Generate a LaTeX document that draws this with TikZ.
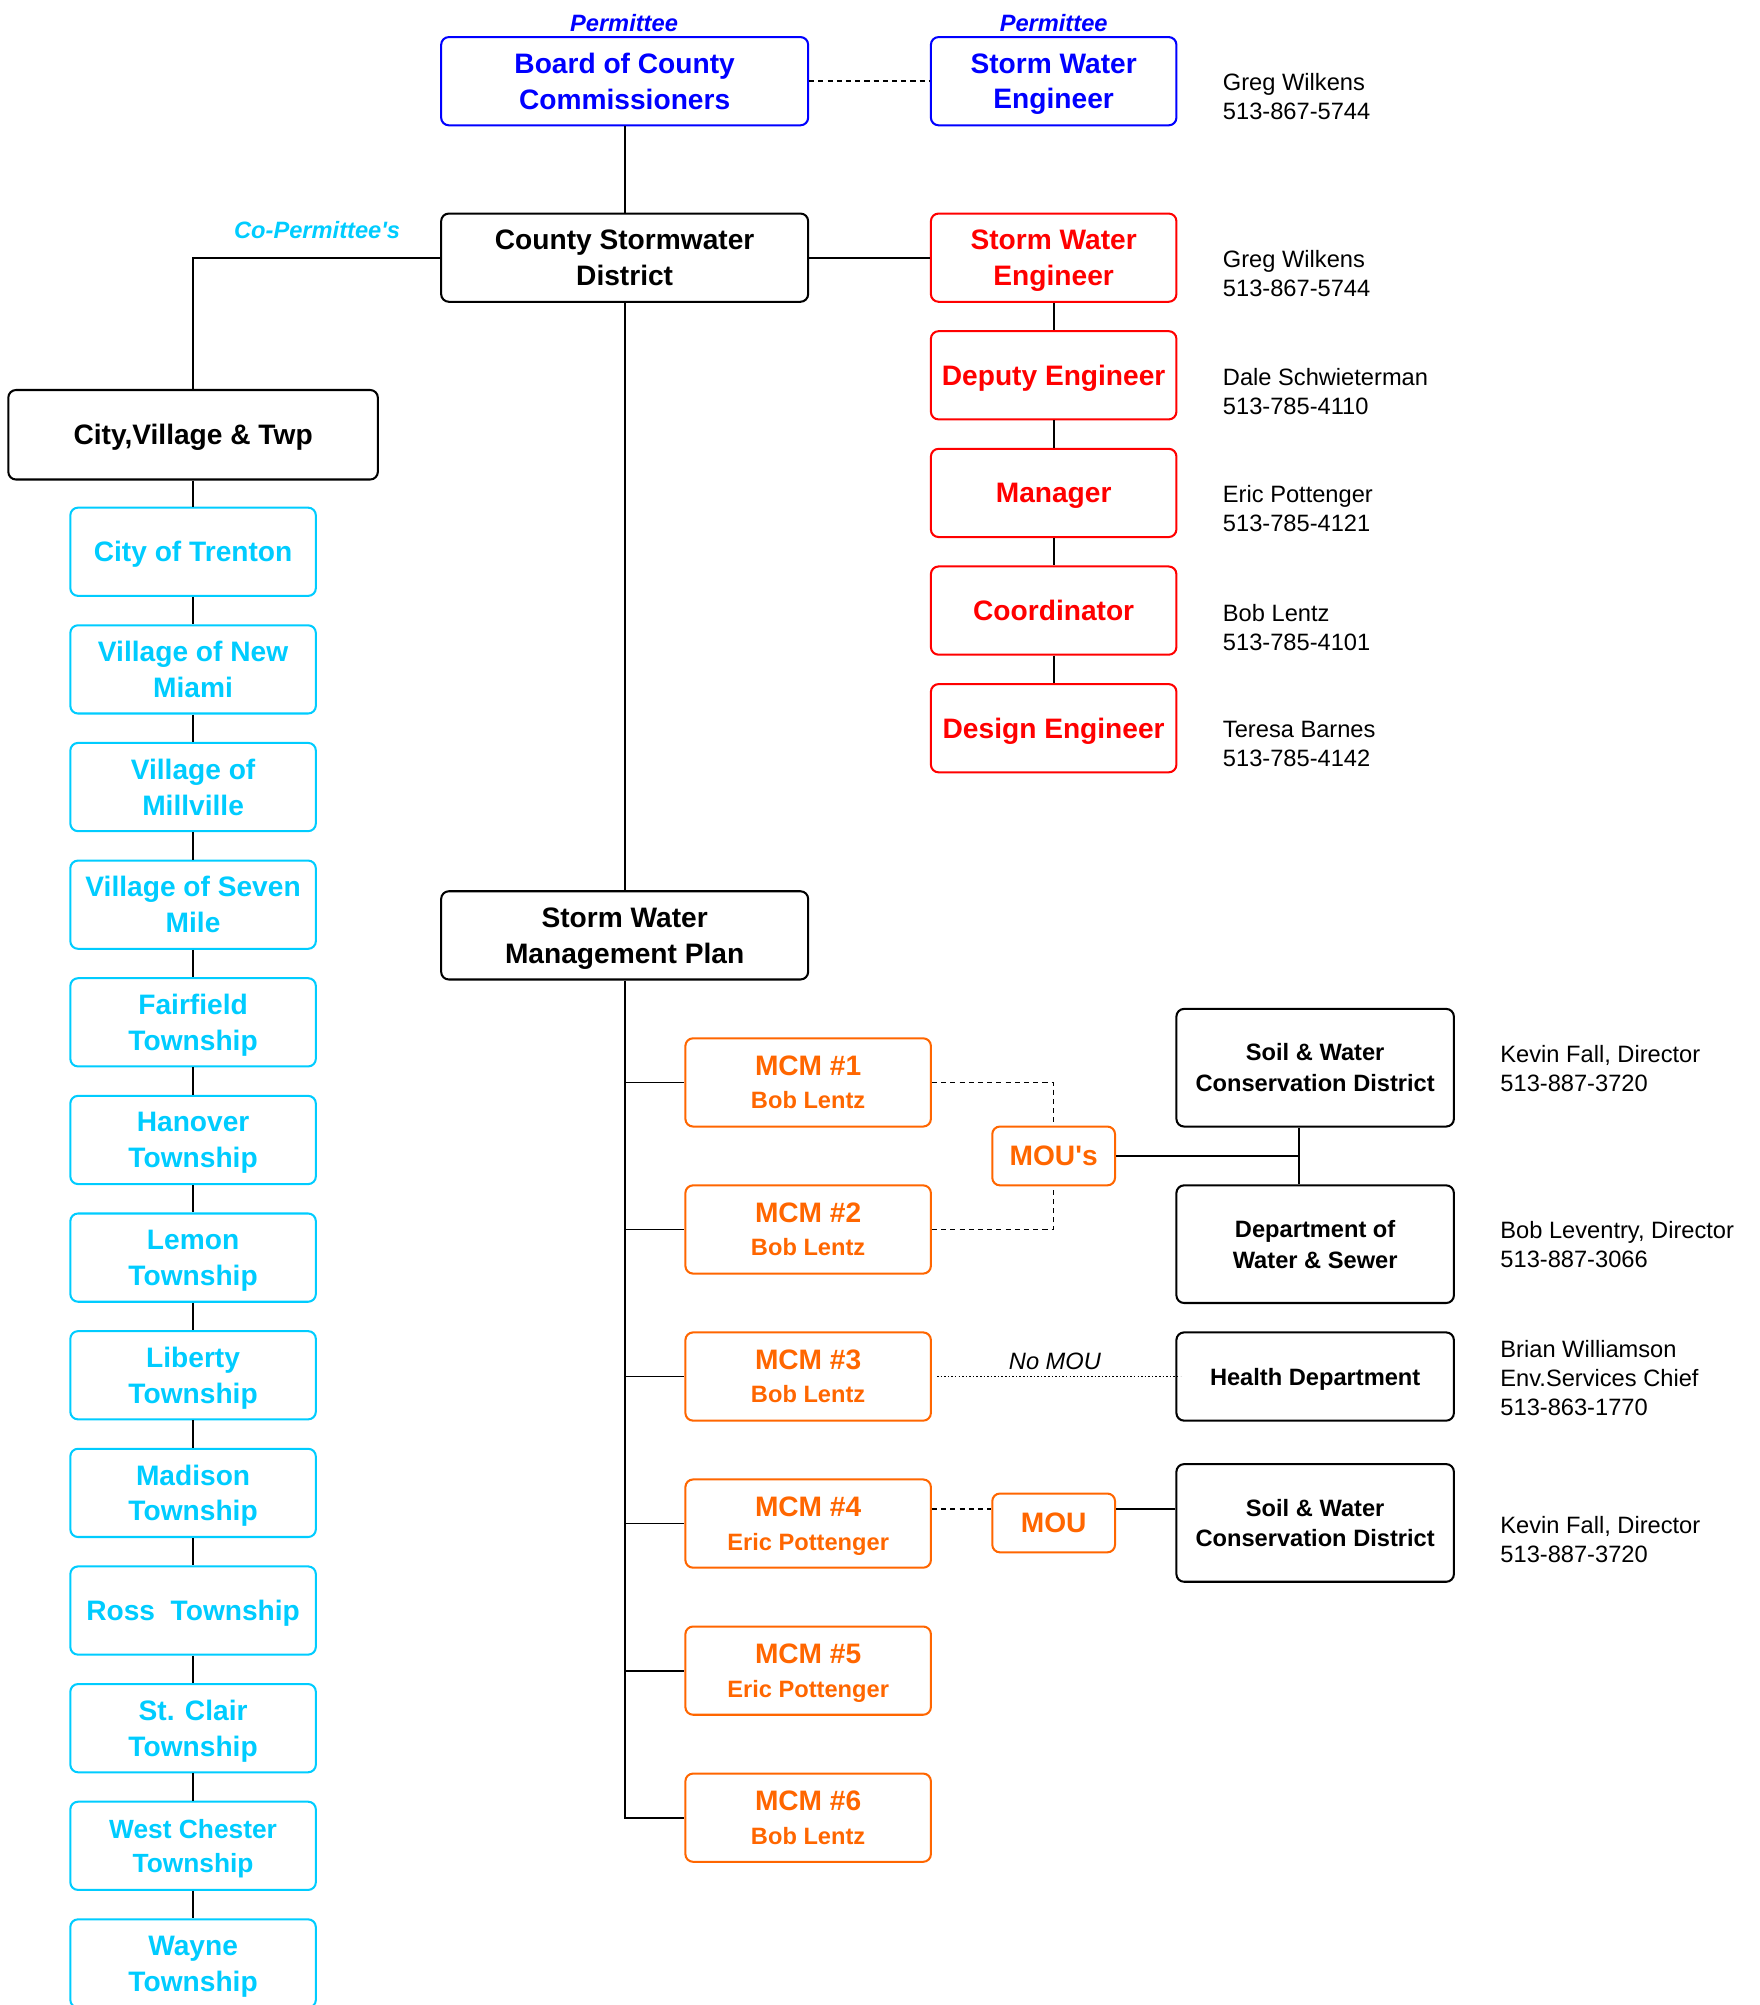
\documentclass[tikz,border=0pt]{standalone}
\usepackage{fontspec}
\setmainfont{Liberation Sans}
\definecolor{pblue}{RGB}{0,0,255}
\definecolor{pred}{RGB}{255,0,0}
\definecolor{pcyan}{RGB}{0,204,255}
\definecolor{porange}{RGB}{255,102,0}
\begin{document}
\begin{tikzpicture}[x=0.5pt,y=-0.5pt,
  box/.style={draw, rounded corners=3pt, line width=0.8pt, align=center, inner sep=0pt, text depth=0pt,
    font=\bfseries\fontsize{11}{14}\selectfont},
  wbox/.style={box, minimum width=143.5pt, minimum height=34.5pt},
  nbox/.style={box, minimum width=96pt, minimum height=34.5pt},
  cbox/.style={nbox, pcyan},
  mbox/.style={nbox, porange, font=\bfseries\fontsize{11}{13}\selectfont},
  abox/.style={box, minimum width=108.5pt, minimum height=46pt, font=\bfseries\fontsize{9.25}{12}\selectfont},
  moubox/.style={box, minimum width=48pt, minimum height=23pt, porange},
  info/.style={anchor=west, align=left, inner sep=0pt, font=\fontsize{9.25}{11.25}\selectfont},
  link/.style={line width=0.7pt},
  dlink/.style={line width=0.65pt, dash pattern=on 2pt off 1.6pt},
  tag/.style={inner sep=0pt, font=\bfseries\itshape\fontsize{9.25}{11}\selectfont}
]
\clip (0,0) rectangle (1376,1568);
\path[use as bounding box] (0,0) rectangle (1376,1568);

% top permittees
\node[tag, text=pblue] (tag1) at (488,18) {Permittee};
\node[tag, text=pblue] (tag2) at (824,18) {Permittee};
\node[wbox, pblue] (board) at (488.5,63.5) {Board of County\\Commissioners};
\node[nbox, pblue] (swe1) at (824,63.5) {Storm Water\\Engineer};
\node[info] (i1) at (956,75.5) {Greg Wilkens\\513-867-5744};
\draw[dlink] (board) -- (swe1);

% county stormwater district
\node[wbox] (csd) at (488.5,201.5) {County Stormwater\\District};
\draw[link] (board) -- (csd);
\node[tag, text=pcyan] (tag3) at (248,180) {Co-Permittee\textquotesingle s};

% red chain
\node[nbox, pred] (swe2) at (824,201.5) {Storm Water\\Engineer};
\node[nbox, pred] (dep) at (824,293.5) {Deputy Engineer};
\node[nbox, pred] (man) at (824,385.5) {Manager};
\node[nbox, pred] (coo) at (824,477.5) {Coordinator};
\node[nbox, pred] (des) at (824,569.5) {Design Engineer};
\draw[link] (csd) -- (swe2);
\draw[link] (swe2) -- (dep);
\draw[link] (dep) -- (man);
\draw[link] (man) -- (coo);
\draw[link] (coo) -- (des);
\node[info] (i2) at (956,214) {Greg Wilkens\\513-867-5744};
\node[info] (i3) at (956,306) {Dale Schwieterman\\513-785-4110};
\node[info] (i4) at (956,398) {Eric Pottenger\\513-785-4121};
\node[info] (i5) at (956,490.5) {Bob Lentz\\513-785-4101};
\node[info] (i6) at (956,582) {Teresa Barnes\\513-785-4142};

% city, village & twp
\node[box, minimum width=144.5pt, minimum height=35pt] (city) at (151,340) {City,Village \& Twp};
\draw[link] (csd.west) -| (city.north);
\node[cbox] (c1) at (151,431.5) {City of Trenton};
\node[cbox] (c2) at (151,523.5) {Village of New\\Miami};
\node[cbox] (c3) at (151,615.5) {Village of\\Millville};
\node[cbox] (c4) at (151,707.5) {Village of Seven\\Mile};
\node[cbox] (c5) at (151,799.5) {Fairfield\\Township};
\node[cbox] (c6) at (151,891.5) {Hanover\\Township};
\node[cbox] (c7) at (151,983.5) {Lemon\\Township};
\node[cbox] (c8) at (151,1075.5) {Liberty\\Township};
\node[cbox] (c9) at (151,1167.5) {Madison\\Township};
\node[cbox] (c10) at (151,1259.5) {Ross\ \ Township};
\node[cbox] (c11) at (151,1351.5) {St. Clair\\Township};
\node[cbox, font=\bfseries\fontsize{10.3}{13.5}\selectfont] (c12) at (151,1443.5) {West Chester\\Township};
\node[cbox] (c13) at (151,1535.5) {Wayne\\Township};
\draw[link] (city) -- (c1);
\foreach \a/\b in {c1/c2,c2/c3,c3/c4,c4/c5,c5/c6,c6/c7,c7/c8,c8/c9,c9/c10,c10/c11,c11/c12,c12/c13}
  \draw[link] (\a) -- (\b);

% storm water management plan
\node[wbox] (swmp) at (488.5,731.5) {Storm Water\\Management Plan};
\draw[link] (csd) -- (swmp);

\node[mbox] (mcm1) at (632,846.5) {MCM \#1\\{\fontsize{9.25}{13}\selectfont Bob Lentz}};
\node[mbox] (mcm2) at (632,961.5) {MCM \#2\\{\fontsize{9.25}{13}\selectfont Bob Lentz}};
\node[mbox] (mcm3) at (632,1076.5) {MCM \#3\\{\fontsize{9.25}{13}\selectfont Bob Lentz}};
\node[mbox] (mcm4) at (632,1191.5) {MCM \#4\\{\fontsize{9.25}{13}\selectfont Eric Pottenger}};
\node[mbox] (mcm5) at (632,1306.5) {MCM \#5\\{\fontsize{9.25}{13}\selectfont Eric Pottenger}};
\node[mbox] (mcm6) at (632,1421.5) {MCM \#6\\{\fontsize{9.25}{13}\selectfont Bob Lentz}};
\draw[link] (swmp.south) -- (swmp.south |- mcm6.west) -- (mcm6.west);
\foreach \m in {mcm1,mcm2,mcm3,mcm4,mcm5}
  \draw[link] (swmp.south |- \m.west) -- (\m.west);

% agencies
\node[abox] (soil1) at (1028.5,835) {Soil \& Water\\Conservation District};
\node[abox] (dws) at (1028.5,973) {Department of\\Water \& Sewer};
\node[abox, minimum height=34.5pt] (health) at (1028.5,1076.5) {Health Department};
\node[abox] (soil2) at (1028.5,1191) {Soil \& Water\\Conservation District};
\node[info] (i7) at (1173,835.5) {Kevin Fall, Director\\513-887-3720};
\node[info] (i8) at (1173,973.5) {Bob Leventry, Director\\513-887-3066};
\node[info] (i9) at (1173,1077.5) {Brian Williamson\\Env.Services Chief\\513-863-1770};
\node[info] (i10) at (1173,1204) {Kevin Fall, Director\\513-887-3720};

% MOU's
\node[moubox] (mous) at (824,904) {MOU\textquotesingle s};
\draw[dlink] (mcm1.east) -| (mous.north);
\draw[dlink] (mcm2.east) -| (mous.south);
\coordinate (jn) at (1016,904);
\draw[link] (mous.east) -- (jn);
\draw[link] (jn |- soil1.south) -- (jn |- dws.north);

% No MOU
\draw[line width=0.5pt, dash pattern=on 0.6pt off 0.8pt] ([xshift=2pt]mcm3.east) -- ([xshift=2pt]health.west);
\node[inner sep=0pt, font=\itshape\fontsize{9.25}{11}\selectfont] (nomou) at (825,1065) {No MOU};

% MOU
\node[moubox] (mou) at (824,1191) {MOU};
\coordinate (m4) at (0,1180);
\draw[dlink] (mcm4.east |- m4) -- (mou.west |- m4);
\draw[link] (mou.east |- m4) -- (soil2.west |- m4);
\end{tikzpicture}
\end{document}
